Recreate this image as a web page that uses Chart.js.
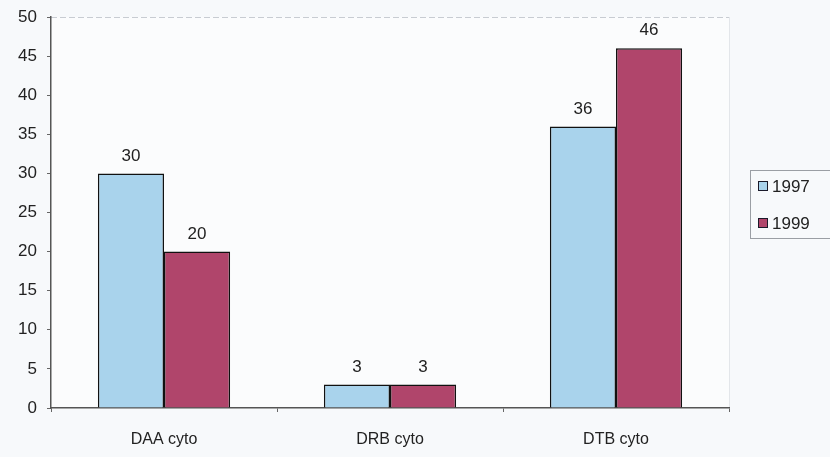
<!DOCTYPE html>
<html lang="en">
<head>
    <meta charset="UTF-8">
    <title>Cyto 1997 / 1999</title>
    <script src="https://cdn.jsdelivr.net/npm/chart.js"></script>
    <style>
        html, body { margin: 0; padding: 0; background: #f7f9fb; }
        #wrap { width: 830px; height: 457px; }
    </style>
</head>
<body>
    <div id="wrap"><canvas id="myChart" width="830" height="457"></canvas></div>

    <script>
        // data
        const categories = ['DAA cyto', 'DRB cyto', 'DTB cyto'];
        const years = ['1997', '1999'];
        const values1997 = [30, 3, 36];
        const values1999 = [20, 3, 46];
        const yTicks = [0, 5, 10, 15, 20, 25, 30, 35, 40, 45, 50];

        const colors = ['#a9d3ec', '#b0456b'];
        const FONT = '"Liberation Sans", Arial, sans-serif';

        // value labels over bars
        const valueLabels = {
            id: 'valueLabels',
            afterDatasetsDraw(chart) {
                const { ctx } = chart;
                ctx.save();
                ctx.font = '17px ' + FONT;
                ctx.fillStyle = '#222';
                ctx.textAlign = 'center';
                ctx.textBaseline = 'bottom';
                chart.data.datasets.forEach((ds, i) => {
                    chart.getDatasetMeta(i).data.forEach((bar, j) => {
                        ctx.fillText(ds.data[j], bar.x, bar.y - 9);
                    });
                });
                ctx.restore();
            }
        };

        // faint frame on top/right + legend box on the right
        const frameAndLegend = {
            id: 'frameAndLegend',
            beforeDraw(chart) {
                const { ctx, chartArea: a } = chart;
                ctx.save();
                ctx.fillStyle = '#f7f9fb';
                ctx.fillRect(0, 0, chart.width, chart.height);
                ctx.fillStyle = '#fbfcfd';
                ctx.fillRect(a.left, a.top, a.right - a.left, a.bottom - a.top);
                ctx.strokeStyle = '#c8ccd2';
                ctx.lineWidth = 1;
                ctx.setLineDash([6, 3]);
                ctx.beginPath();
                ctx.moveTo(a.left, a.top + 0.5);
                ctx.lineTo(a.right, a.top + 0.5);
                ctx.stroke();
                ctx.setLineDash([]);
                ctx.strokeStyle = '#e3e6ea';
                ctx.beginPath();
                ctx.moveTo(a.right + 0.5, a.top);
                ctx.lineTo(a.right + 0.5, a.bottom);
                ctx.stroke();
                ctx.restore();
            },
            afterDraw(chart) {
                const { ctx } = chart;
                const x0 = 750, y0 = 170, w = 82, h = 68;
                ctx.save();
                ctx.strokeStyle = '#9a9ea4';
                ctx.lineWidth = 1;
                ctx.strokeRect(x0 + 0.5, y0 + 0.5, w, h);
                ctx.font = '17px ' + FONT;
                ctx.textBaseline = 'middle';
                chart.data.datasets.forEach((ds, i) => {
                    const cy = 186 + i * 37;
                    ctx.fillStyle = ds.backgroundColor;
                    ctx.fillRect(758, cy - 5, 10, 10);
                    ctx.strokeStyle = '#1a1a2a';
                    ctx.strokeRect(758.5, cy - 4.5, 9, 9);
                    ctx.fillStyle = '#222';
                    ctx.fillText(ds.label, 772, cy + 1);
                });
                ctx.restore();
            }
        };

        const config = {
            type: 'bar',
            data: {
                labels: categories,
                datasets: [
                    { label: years[0], data: values1997, backgroundColor: colors[0] },
                    { label: years[1], data: values1999, backgroundColor: colors[1] }
                ].map(d => Object.assign(d, {
                    borderColor: '#111',
                    borderWidth: 1.5,
                    categoryPercentage: 0.585,
                    barPercentage: 1.0
                }))
            },
            options: {
                responsive: false,
                animation: false,
                layout: { padding: { top: 17, right: 101, left: 0, bottom: 0 } },
                plugins: {
                    legend: { display: false },
                    tooltip: { enabled: false }
                },
                scales: {
                    x: {
                        grid: { display: true, drawOnChartArea: false, tickLength: 4, color: '#666' },
                        border: { color: '#555', width: 1.5 },
                        ticks: { color: '#222', font: { family: FONT, size: 16 }, padding: 18 },
                        afterFit(s) { s.height = 49; s.paddingLeft = 0; s.paddingRight = 0; }
                    },
                    y: {
                        min: 0,
                        max: 50,
                        afterBuildTicks(s) { s.ticks = yTicks.map(v => ({ value: v })); },
                        grid: { display: true, drawOnChartArea: false, tickLength: 4, color: '#666' },
                        border: { color: '#555', width: 1.5 },
                        ticks: { color: '#222', font: { family: FONT, size: 17 }, padding: 10 },
                        afterFit(s) { s.width = 51; s.paddingTop = 0; s.paddingBottom = 0; }
                    }
                }
            },
            plugins: [frameAndLegend, valueLabels]
        };

        new Chart(document.getElementById('myChart').getContext('2d'), config);
    </script>
</body>
</html>
